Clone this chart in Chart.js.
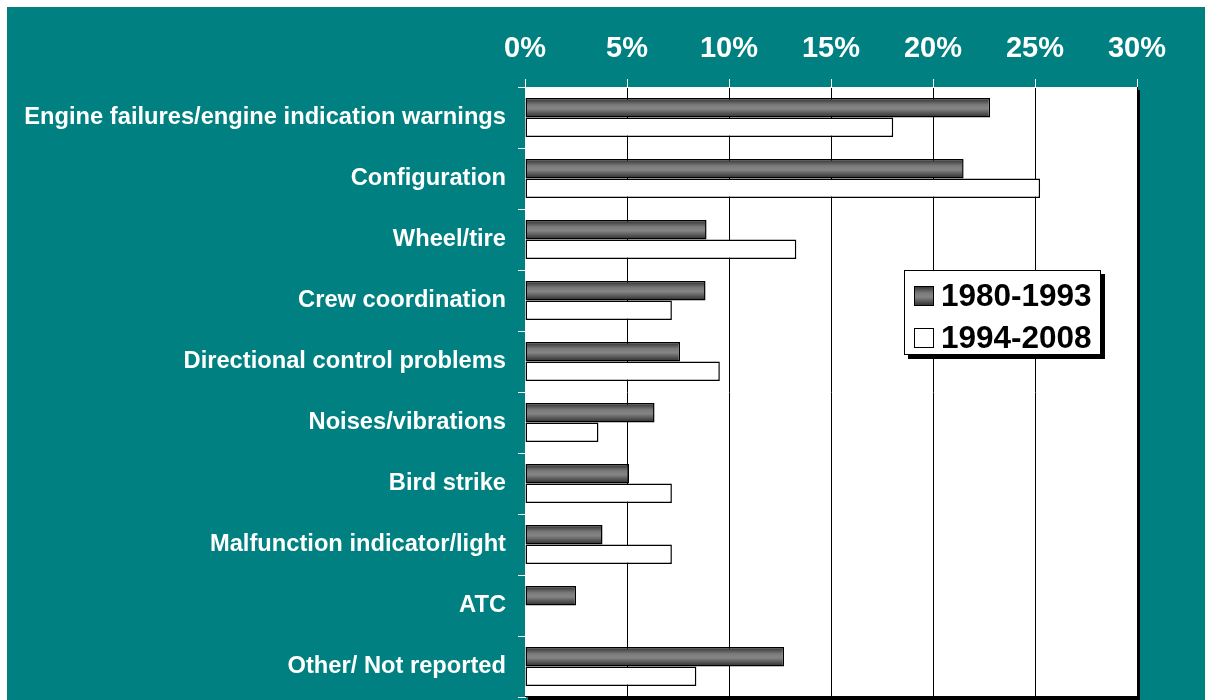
<!DOCTYPE html>
<html><head><meta charset="utf-8">
<script src="https://cdn.jsdelivr.net/npm/chart.js@4.4.1/dist/chart.umd.min.js"></script>
<style>html,body{margin:0;padding:0;background:#fff;}</style>
</head><body>
<canvas id="c" width="1205" height="700" style="display:block;width:1205px;height:700px"></canvas>
<script>
const categories = [
  'Engine failures/engine indication warnings',
  'Configuration',
  'Wheel/tire',
  'Crew coordination',
  'Directional control problems',
  'Noises/vibrations',
  'Bird strike',
  'Malfunction indicator/light',
  'ATC',
  'Other/ Not reported'
];
const seriesLabels = ['1980-1993', '1994-2008'];
const series1980to1993 = [22.8, 21.5, 8.9, 8.85, 7.6, 6.35, 5.1, 3.8, 2.5, 12.7];
const series1994to2008 = [18.05, 25.25, 13.3, 7.2, 9.55, 3.6, 7.2, 7.2, 0, 8.4];
const tickValues = [0, 5, 10, 15, 20, 25, 30];

const TEAL = '#008080';
const FONT = 'Arial, "Liberation Sans", sans-serif';

function darkGradient(ctx, top, bottom) {
  const g = ctx.createLinearGradient(0, top, 0, bottom);
  g.addColorStop(0, '#2a2a2a');
  g.addColorStop(0.35, '#7a7a7a');
  g.addColorStop(0.55, '#858585');
  g.addColorStop(1, '#2a2a2a');
  return g;
}

const frame = {
  id: 'frame',
  beforeDraw(chart) {
    const ctx = chart.ctx, a = chart.chartArea;
    ctx.save();
    ctx.fillStyle = '#ffffff';
    ctx.fillRect(0, 0, chart.width, chart.height);
    ctx.fillStyle = TEAL;
    ctx.fillRect(7, 7, chart.width - 7, chart.height - 7);
    ctx.fillStyle = '#000000';
    ctx.fillRect(a.left + 3, a.top + 3, a.right - a.left, a.bottom - a.top);
    ctx.fillStyle = '#ffffff';
    ctx.fillRect(a.left, a.top, a.right - a.left, a.bottom - a.top);
    ctx.restore();
  },
  beforeDatasetsDraw(chart) {
    const ctx = chart.ctx;
    const meta = chart.getDatasetMeta(0);
    meta.data.forEach(el => {
      const h = el.height;
      el.options.backgroundColor = darkGradient(ctx, el.y - h / 2, el.y + h / 2);
    });
  },
  afterDraw(chart) {
    const ctx = chart.ctx, a = chart.chartArea;
    ctx.save();
    ctx.strokeStyle = '#000';
    ctx.lineWidth = 1;
    ctx.beginPath();
    ctx.moveTo(a.left, a.bottom - 0.5);
    ctx.lineTo(a.right + 0.5, a.bottom - 0.5);
    ctx.lineTo(a.right + 0.5, a.top);
    ctx.stroke();
    // legend
    const lx = 904, ly = 270, lw = 197, lh = 85;
    ctx.fillStyle = '#000';
    ctx.fillRect(lx + 4, ly + 4, lw, lh);
    ctx.fillStyle = '#fff';
    ctx.fillRect(lx, ly, lw, lh);
    ctx.strokeRect(lx + 0.5, ly + 0.5, lw - 1, lh - 1);
    const rows = [296, 338];
    chart.data.datasets.forEach((ds, i) => {
      const cy = rows[i];
      ctx.fillStyle = i === 0 ? darkGradient(ctx, cy - 10, cy + 10) : '#fff';
      ctx.fillRect(914, cy - 10, 20, 20);
      ctx.strokeStyle = '#000';
      ctx.strokeRect(914.5, cy - 9.5, 19, 19);
      ctx.fillStyle = '#000';
      ctx.font = 'bold 31.5px ' + FONT;
      ctx.textBaseline = 'middle';
      ctx.textAlign = 'left';
      ctx.fillText(ds.label, 941, cy + 1);
    });
    ctx.restore();
  }
};

new Chart(document.getElementById('c'), {
  type: 'bar',
  data: {
    labels: categories,
    datasets: [
      { label: seriesLabels[0], data: series1980to1993, backgroundColor: '#666', borderColor: '#000',
        borderWidth: c => (c.raw === 0 ? 0 : 1.5), borderSkipped: false },
      { label: seriesLabels[1], data: series1994to2008, backgroundColor: '#ffffff', borderColor: '#000',
        borderWidth: c => (c.raw === 0 ? 0 : 1.5), borderSkipped: false }
    ]
  },
  options: {
    indexAxis: 'y',
    responsive: false,
    animation: false,
    devicePixelRatio: 1,
    categoryPercentage: 0.64,
    barPercentage: 1.0,
    layout: { padding: { left: 0, top: 0, right: 68, bottom: 3 } },
    plugins: { legend: { display: false }, tooltip: { enabled: false } },
    scales: {
      x: {
        position: 'top',
        min: 0, max: 30,
        afterBuildTicks: s => { s.ticks = tickValues.map(v => ({ value: v })); },
        afterFit: s => { s.height = 87; s.paddingLeft = 0; s.paddingRight = 0; },
        ticks: {
          color: '#ffffff',
          font: { family: FONT, size: 29, weight: 'bold' },
          padding: 13,
          callback: v => v + '%'
        },
        grid: {
          color: c => (c.index === 0 ? '#ffffff' : '#000000'),
          tickColor: '#ffffff',
          tickLength: 8,
          lineWidth: 1
        },
        border: { color: '#ffffff', width: 1 }
      },
      y: {
        afterFit: s => { s.width = 525; s.paddingTop = 0; s.paddingBottom = 0; },
        ticks: {
          color: '#ffffff',
          font: { family: FONT, size: 23.7, weight: 'bold' },
          padding: 12
        },
        grid: {
          drawOnChartArea: false,
          color: '#ffffff',
          tickColor: '#ffffff',
          tickLength: 7,
          offset: true
        },
        border: { color: '#ffffff', width: 1 }
      }
    }
  },
  plugins: [frame]
});
</script>
</body></html>
